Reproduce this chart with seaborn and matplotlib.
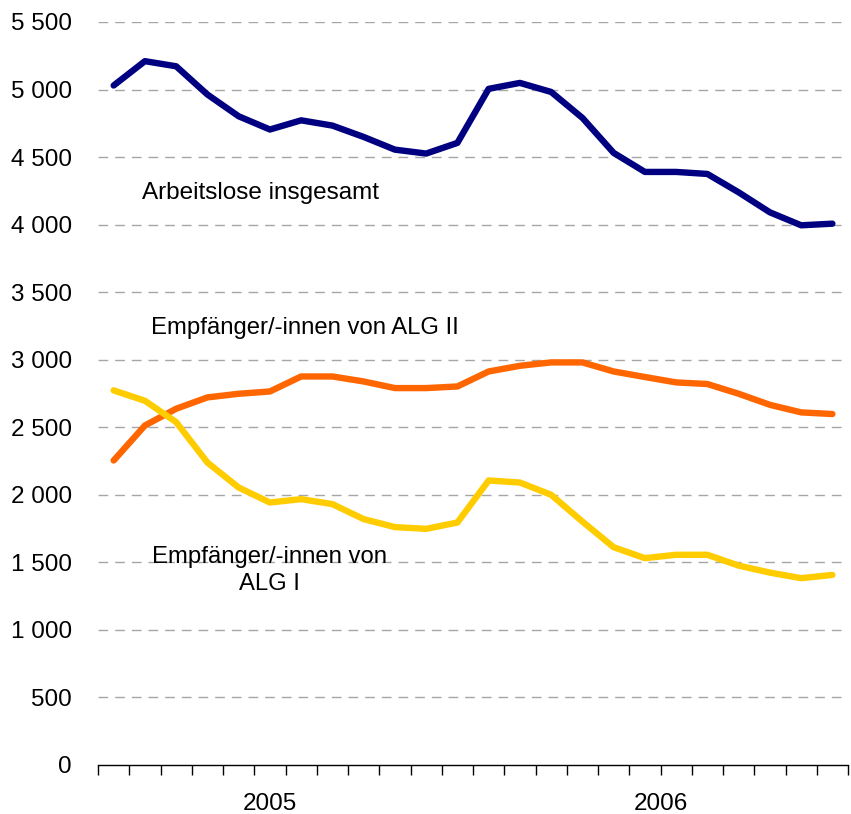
import numpy as np
import pandas as pd
import seaborn as sns
import matplotlib.pyplot as plt
from matplotlib.ticker import FuncFormatter, MultipleLocator

# monthly values, Jan 2005 - Dec 2006 (in thousand)
months = list(range(24))
arbeitslose = [5030, 5210, 5172, 4963, 4802, 4704, 4772, 4733, 4649, 4555, 4526, 4605,
               5005, 5049, 4982, 4790, 4531, 4390, 4390, 4375, 4239, 4091, 3995, 4007]
alg2 = [2254, 2513, 2637, 2721, 2748, 2765, 2876, 2876, 2839, 2790, 2790, 2802,
        2913, 2955, 2980, 2980, 2913, 2872, 2832, 2820, 2748, 2666, 2610, 2598]
alg1 = [2773, 2696, 2538, 2239, 2054, 1943, 1968, 1931, 1820, 1761, 1748, 1795,
        2106, 2091, 2000, 1802, 1612, 1531, 1556, 1556, 1476, 1424, 1383, 1407]
series_names = ["Arbeitslose insgesamt", "Empfänger/-innen von ALG II", "Empfänger/-innen von ALG I"]
colors = ["#000080", "#FF6600", "#FFCC00"]
years = ["2005", "2006"]

df = pd.DataFrame({
    "monat": months * 3,
    "wert": arbeitslose + alg2 + alg1,
    "reihe": [series_names[0]] * 24 + [series_names[1]] * 24 + [series_names[2]] * 24,
})

sns.set_style("white")
plt.rcParams["font.family"] = ["Liberation Sans", "DejaVu Sans"]
plt.rcParams["text.color"] = "black"
plt.rcParams["ytick.color"] = "black"
plt.rcParams["xtick.color"] = "black"

fig = plt.figure(figsize=(8.51, 8.14), dpi=100)
ax = fig.add_axes([0.1152, 0.0602, 0.8813, 0.9128])

# grid lines first so the lines sit on top
for v in range(500, 5501, 500):
    ax.axhline(v, color="#A6A6A6", lw=1.0, ls=(0, (7, 5)), zorder=0)

sns.lineplot(data=df, x="monat", y="wert", hue="reihe", palette=colors,
             linewidth=4.6, legend=False, ax=ax, solid_capstyle="round")

ax.set_xlim(-0.5, 23.5)
ax.set_ylim(0, 5500)
ax.yaxis.set_major_locator(MultipleLocator(500))
ax.yaxis.set_major_formatter(FuncFormatter(lambda v, p: f"{int(v):,}".replace(",", " ")))
ax.tick_params(axis="y", length=0, pad=19, labelsize=17.5, labelcolor="black")

ax.set_xticks([])
ax.set_xticks(np.arange(-0.5, 23.6, 1), minor=True)
ax.tick_params(axis="x", which="minor", bottom=True, length=7, width=1,
               color="black", direction="out")
ax.set_xlabel("")
ax.set_ylabel("")

for s in ["top", "right", "left"]:
    ax.spines[s].set_visible(False)
ax.spines["bottom"].set_color("black")
ax.spines["bottom"].set_linewidth(1)

# year labels below the axis
ax.text(5.0, -290, years[0], ha="center", va="center", fontsize=17.5)
ax.text(17.5, -290, years[1], ha="center", va="center", fontsize=17.5)

# series labels
ax.text(0.9, 4235, series_names[0], ha="left", va="center", fontsize=17.5)
ax.text(1.2, 3235, series_names[1], ha="left", va="center", fontsize=17.2)
ax.text(5.0, 1440, "Empfänger/-innen von\nALG I", ha="center", va="center",
        fontsize=17.2, linespacing=1.25)

fig.savefig("out.png", dpi=100)
